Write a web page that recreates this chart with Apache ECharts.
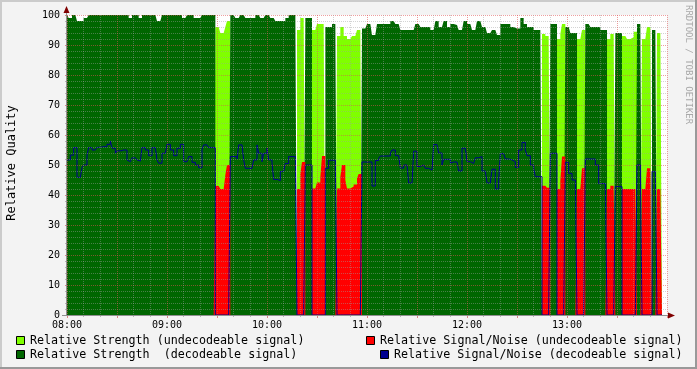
<!DOCTYPE html>
<html><head><meta charset="utf-8">
<script src="https://cdn.jsdelivr.net/npm/echarts@6/dist/echarts.min.js"></script>
<style>html,body{margin:0;padding:0;background:#f3f3f3}#c{width:697px;height:369px}</style>
</head><body><div id="c"></div>
<script>
// minutes after 08:00 where a value starts, and the value
const strengthT = [0,1,3,6,10,13,37,39,43,45,54,57,69,72,76,81,89,92,95,96,98,101,104,107,113,116,119,122,125,131,133,138,140,147,150,155,159,162,164,166,168,171,174,177,180,183,186,194,197,200,209,212,218,221,223,226,228,230,232,235,238,240,243,246,249,252,255,258,260,266,268,272,274,276,280,285,287,290,294,296,297,299,302,306,309,311,314,320,324,326,329,333,336,338,340,342,345,348,351,354];
const strengthV = [100,99,100,98,99,100,99,100,99,100,98,100,99,100,99,100,96,94,96,98,100,99,100,99,100,99,100,99,98,99,100,95,99,95,97,96,97,93,96,93,92,93,95,95.5,97,93.3,97,98,97,95,97,96,95,98,96,98,96,97,96.7,95,98,97,95,98,96,94,95,93.3,97,96,95.5,99,97,96,95,93.7,93,97,92,93.7,97,96,94,92,95,97,96,95,92,93.7,94,93,92,92.6,94.4,97,92,96,95,94];
const snrT = [0,2,4,6,9,10,12,13,15,17,18,21,24,26,27,29,30,32,36,37,39,42,43,45,47,49,51,54,55,57,60,62,64,66,68,70,73,75,77,79,81,82,85,89,92,95,96,98,102,103,106,107,112,114,115,117,118,120,121,123,124,126,128,130,131,133,138,140,141,143,147,149,150,152,153,155,157,162,164,165,167,168,171,172,174,175,177,183,185,187,188,194,195,197,200,202,205,208,210,212,215,217,220,223,225,226,230,231,235,237,240,243,245,247,249,252,255,257,259,260,263,265,267,269,271,273,275,276,278,280,281,285,288,290,294,296,297,299,301,303,306,309,311,317,319,324,326,329,333,342,345,348,351,354];
const snrV = [51.7,53.3,55.8,45.9,49.2,50,53.3,55.8,55,55.6,55.9,56.1,56.9,58,55.6,53.9,54.7,55,51.7,51.1,52.4,51.7,51.3,55.8,55,53.1,55.8,51.7,50.6,53.9,56.9,55,53.1,55.6,56.9,51.1,52.8,50.9,50,49.1,55.2,56.7,55.8,43,42,46.7,50,52.8,52,56.7,51.7,48.9,51.7,56.7,53.9,51.1,53.9,55.6,51.7,50.6,45.2,44.8,47.8,48.3,50.5,52.8,42,47,51,50,42.2,42.8,44.2,45.8,53,48.9,51.6,42.2,46,50,45,42.2,42.8,43.5,45.6,47,51,43,51.5,52.2,53,54,55,53.1,49,50,44,54.6,49.5,50,48.9,48.3,56.8,54,50,51.9,50.6,51,48,55.6,51.1,50.5,52.4,52.8,48,44,48.6,42,45,53.8,52,51.7,51.1,49.2,55,57.5,55,53.1,50,48.9,46.1,43.1,42.4,53.9,42,44.7,52.8,50.9,47.2,45,42,48.9,52,50,43.8,42,43.1,42.8,42,50,42,48.9,47.8,42];
// undecodeable periods [start, end) in minutes after 08:00
const undecStart = [89,138,147,162,285,294,306,324,333,345,354];
const undecEnd   = [98,143,155,177,290,299,311,329,342,351,357];
const dataEnd = 357;
const hourLabels = ['08:00','09:00','10:00','11:00','12:00','13:00'];
const yTicks = [0,10,20,30,40,50,60,70,80,90,100];

function stepAt(T, V, m){ let v = V[0]; for (let i=0;i<T.length;i++){ if (T[i] <= m) v = V[i]; else break; } return v; }
function isUndec(m){ for (let i=0;i<undecStart.length;i++) if (m>=undecStart[i] && m<undecEnd[i]) return true; return false; }

const lg=[], dg=[], rd=[], bl=[];
for (let m=0; m<=dataEnd; m++){
  const mm = Math.min(m, dataEnd-1);
  const s = stepAt(strengthT,strengthV,mm), n = stepAt(snrT,snrV,mm), u = isUndec(mm);
  lg.push([m, u?s:0]); dg.push([m, u?0:s]); rd.push([m, u?n:0]); bl.push([m, u?0:n]);
}

const FONT = 'DejaVu Sans Mono';
const LEG = '11.7px "DejaVu Sans Mono"';
function area(name, data, color){
  return {name, type:'line', data, step:'end', showSymbol:false, symbol:'none',
    lineStyle:{width:0, opacity:0}, areaStyle:{color, opacity:1}, itemStyle:{color},
    animation:false, silent:true, z:2};
}
const chart = echarts.init(document.getElementById('c'), null, {renderer:'canvas'});
chart.setOption({
  backgroundColor:'#f3f3f3',
  animation:false,
  grid:{left:67, top:15, width:600, height:300, show:true, backgroundColor:'#ffffff', borderWidth:0},
  xAxis:{type:'value', min:0, max:360, interval:30, z:5,
    axisLine:{show:false},
    axisTick:{show:true, length:3, lineStyle:{color:'rgba(200,60,60,0.6)'}},
    minorTick:{show:true, splitNumber:3, length:2, lineStyle:{color:'rgba(140,140,140,0.6)'}},
    splitLine:{show:true, lineStyle:{color:'rgba(222,80,80,0.55)', type:[1,1], width:1}},
    minorSplitLine:{show:true, lineStyle:{color:'rgba(160,160,160,0.45)', type:[1,1], width:1}},
    axisLabel:{margin:5, color:'#000', fontFamily:FONT, fontSize:10,
      formatter:v => (v%60===0 && v/60 < hourLabels.length) ? hourLabels[v/60] : ''}
  },
  yAxis:{type:'value', min:yTicks[0], max:yTicks[yTicks.length-1], interval:10, z:5,
    axisLine:{show:false},
    axisTick:{show:true, length:2, lineStyle:{color:'rgba(200,60,60,0.6)'}},
    minorTick:{show:true, splitNumber:5, length:2, lineStyle:{color:'rgba(140,140,140,0.6)'}},
    splitLine:{show:true, lineStyle:{color:'rgba(222,80,80,0.55)', type:[1,1], width:1}},
    minorSplitLine:{show:true, lineStyle:{color:'rgba(160,160,160,0.45)', type:[1,1], width:1}},
    axisLabel:{margin:7, color:'#000', fontFamily:FONT, fontSize:10}
  },
  series:[
    area('Relative Strength (undecodeable signal)', lg, '#80ff00'),
    area('Relative Strength  (decodeable signal)', dg, '#006600'),
    area('Relative Signal/Noise (undecodeable signal)', rd, '#ff0000'),
    {name:'Relative Signal/Noise (decodeable signal)', type:'line', data:bl, step:'end', showSymbol:false, symbol:'none',
      lineStyle:{width:1, color:'#000090'}, itemStyle:{color:'#000090'}, animation:false, silent:true, z:3}
  ],
  graphic:[
    {type:'rect', shape:{x:0,y:0,width:697,height:2}, style:{fill:'#cbcbcb'}, silent:true},
    {type:'rect', shape:{x:0,y:0,width:2,height:369}, style:{fill:'#cbcbcb'}, silent:true},
    {type:'rect', shape:{x:0,y:367,width:697,height:2}, style:{fill:'#999999'}, silent:true},
    {type:'rect', shape:{x:695,y:0,width:2,height:369}, style:{fill:'#999999'}, silent:true},
    {type:'line', shape:{x1:66.5,y1:315,x2:66.5,y2:10}, style:{stroke:'#909090', lineWidth:1}, z:10, silent:true},
    {type:'line', shape:{x1:62,y1:315.5,x2:670,y2:315.5}, style:{stroke:'#909090', lineWidth:1}, z:10, silent:true},
    {type:'polygon', shape:{points:[[63.5,13],[69.5,13],[66.5,6]]}, style:{fill:'#800000'}, z:11, silent:true},
    {type:'polygon', shape:{points:[[668,312.5],[668,318.5],[675,315.5]]}, style:{fill:'#800000'}, z:11, silent:true},
    {type:'text', x:12, y:163, rotation:Math.PI/2, style:{text:'Relative Quality', fill:'#000', font:'12px "DejaVu Sans Mono"', align:'center', verticalAlign:'middle'}, silent:true},
    {type:'text', x:688, y:5, rotation:-Math.PI/2, style:{text:'RRDTOOL / TOBI OETIKER', fill:'#a8a8a8', font:'9px "DejaVu Sans Mono"', align:'left', verticalAlign:'middle'}, silent:true},
    {type:'rect', shape:{x:16.5,y:336.5,width:8,height:8}, style:{fill:'#80ff00', stroke:'#000', lineWidth:1}, silent:true},
    {type:'text', x:30, y:341, style:{text:'Relative Strength (undecodeable signal)', fill:'#000', font:LEG, align:'left', verticalAlign:'middle'}, silent:true},
    {type:'rect', shape:{x:16.5,y:350.5,width:8,height:8}, style:{fill:'#006600', stroke:'#000', lineWidth:1}, silent:true},
    {type:'text', x:30, y:355, style:{text:'Relative Strength  (decodeable signal)', fill:'#000', font:LEG, align:'left', verticalAlign:'middle'}, silent:true},
    {type:'rect', shape:{x:366.5,y:336.5,width:8,height:8}, style:{fill:'#ff0000', stroke:'#000', lineWidth:1}, silent:true},
    {type:'text', x:380, y:341, style:{text:'Relative Signal/Noise (undecodeable signal)', fill:'#000', font:LEG, align:'left', verticalAlign:'middle'}, silent:true},
    {type:'rect', shape:{x:380.5,y:350.5,width:8,height:8}, style:{fill:'#000090', stroke:'#000', lineWidth:1}, silent:true},
    {type:'text', x:394, y:355, style:{text:'Relative Signal/Noise (decodeable signal)', fill:'#000', font:LEG, align:'left', verticalAlign:'middle'}, silent:true}
  ]
});
</script></body></html>
